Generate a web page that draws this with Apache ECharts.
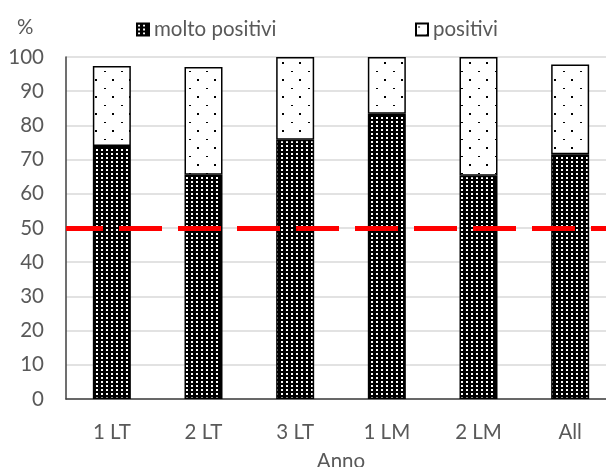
<!DOCTYPE html>
<html>
<head>
<meta charset="utf-8">
<script src="https://cdn.jsdelivr.net/npm/echarts@6/dist/echarts.min.js"></script>
<style>html,body{margin:0;padding:0;background:#fff}#c{width:606px;height:467px}</style>
</head>
<body>
<div id="c"></div>
<script>
var categories = ['1 LT', '2 LT', '3 LT', '1 LM', '2 LM', 'All'];
var moltoPositivi = [74, 65.6, 75.8, 83.4, 65.3, 71.6];
var positivi = [23.4, 31.5, 24.2, 16.6, 34.7, 26.2];
var threshold = 50;
var seriesNames = ['molto positivi', 'positivi'];
var yTicks = [0, 10, 20, 30, 40, 50, 60, 70, 80, 90, 100];

var FONT = 'Lato';
var FS = 20.5;
var TXT = '#595959';

function densePattern() {
  var c = document.createElement('canvas');
  c.width = 5; c.height = 4;
  var g = c.getContext('2d');
  g.fillStyle = '#000'; g.fillRect(0, 0, 5, 4);
  g.fillStyle = '#fff'; g.fillRect(1, 1, 2, 2);
  return c;
}
function sparsePattern() {
  var c = document.createElement('canvas');
  c.width = 17; c.height = 17;
  var g = c.getContext('2d');
  g.fillStyle = '#fff'; g.fillRect(0, 0, 17, 17);
  g.fillStyle = '#000';
  g.fillRect(2, 3, 2, 1);
  g.fillRect(10, 11, 2, 2);
  return c;
}
var dense = { image: densePattern(), repeat: 'repeat' };
var sparse = { image: sparsePattern(), repeat: 'repeat' };

var chart = echarts.init(document.getElementById('c'), null, { renderer: 'canvas' });
chart.setOption({
  animation: false,
  title: {
    text: '%', left: 12, top: 12,
    textStyle: { fontFamily: FONT, fontSize: FS, fontWeight: 'normal', color: TXT }
  },
  legend: [
    {
      data: [seriesNames[0]], left: 131, top: 14, itemWidth: 12, itemHeight: 12, itemGap: 0,
      icon: 'rect', textStyle: { fontFamily: FONT, fontSize: FS, color: TXT }
    },
    {
      data: [seriesNames[1]], left: 410, top: 14, itemWidth: 12, itemHeight: 12, itemGap: 0,
      icon: 'rect', textStyle: { fontFamily: FONT, fontSize: FS, color: TXT }
    }
  ],
  grid: { left: 66, right: -10, top: 57, bottom: 68, containLabel: false, outerBoundsMode: 'none' },
  xAxis: {
    type: 'category', data: categories,
    name: 'Anno', nameLocation: 'middle', nameGap: 52,
    nameTextStyle: { fontFamily: FONT, fontSize: FS, color: TXT },
    axisLine: { lineStyle: { color: '#404040', width: 1.5 } },
    axisTick: { show: false },
    axisLabel: { fontFamily: FONT, fontSize: FS, color: TXT, margin: 23 }
  },
  yAxis: {
    type: 'value', min: 0, max: 100, interval: 10,
    axisLine: { show: true, lineStyle: { color: '#404040', width: 1.5 } },
    axisTick: { show: false },
    axisLabel: { fontFamily: FONT, fontSize: FS, color: TXT, margin: 22,
      formatter: function (v) { return yTicks.indexOf(v) >= 0 ? String(v) : ''; } },
    splitLine: { lineStyle: { color: '#d9d9d9', width: 1.5 } }
  },
  series: [
    {
      name: seriesNames[0], type: 'bar', stack: 'a', barWidth: 38, data: moltoPositivi,
      itemStyle: { color: dense, borderColor: '#000', borderWidth: 1.5 },
      markLine: {
        silent: true, symbol: 'none', label: { show: false },
        lineStyle: { color: '#ff0000', width: 5, type: [43, 16], dashOffset: 6, opacity: 1 },
        data: [{ yAxis: threshold }],
        z: 10
      },
      z: 2
    },
    {
      name: seriesNames[1], type: 'bar', stack: 'a', barWidth: 38, data: positivi,
      itemStyle: { color: sparse, borderColor: '#000', borderWidth: 1.5 },
      z: 2
    }
  ]
});
</script>
</body>
</html>
